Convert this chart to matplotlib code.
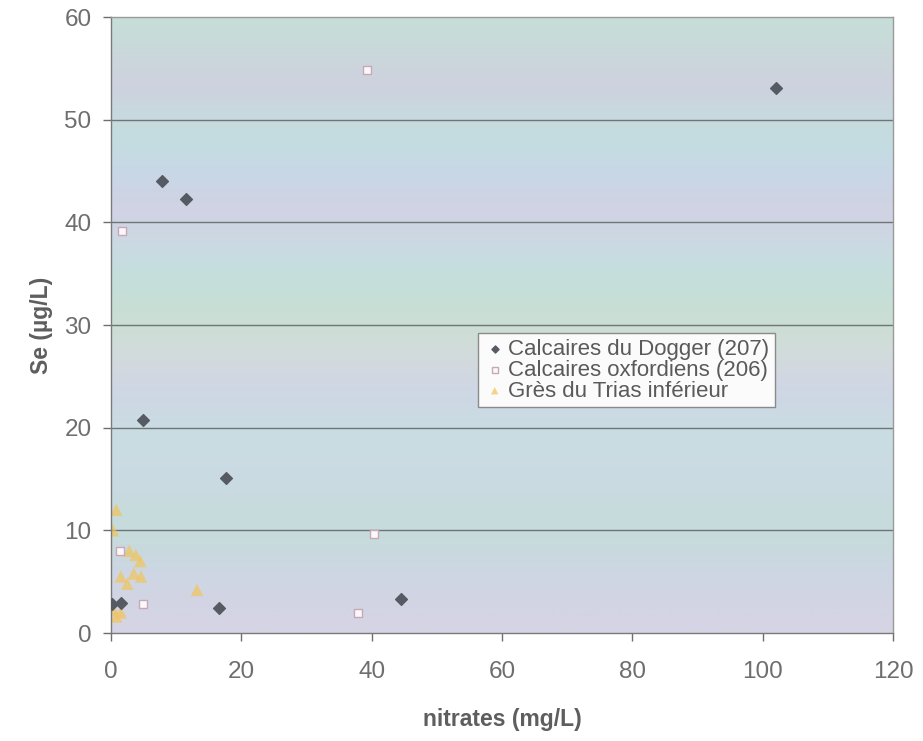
import matplotlib
matplotlib.use('Agg')
import matplotlib.pyplot as plt
import numpy as np
from matplotlib.colors import to_rgb

plt.rcParams['font.family'] = ['Liberation Sans', 'DejaVu Sans']

# Calcaires du Dogger (207)
dogger_x = [102.1, 7.8, 11.5, 4.9, 17.6, 16.6, 44.5, 0.2, 1.6]
dogger_y = [53.1, 44.0, 42.3, 20.7, 15.1, 2.4, 3.3, 2.8, 2.9]

# Calcaires oxfordiens (206)
oxf_x = [39.3, 1.7, 1.4, 4.9, 37.9, 40.3]
oxf_y = [54.8, 39.2, 8.0, 2.8, 1.9, 9.6]

# Gres du Trias inferieur
trias_x = [0.8, 0.3, 2.8, 3.8, 4.5, 3.5, 4.6, 2.5, 1.5, 13.2, 0.3, 0.8, 1.5]
trias_y = [12.0, 10.0, 8.0, 7.6, 7.0, 5.8, 5.5, 4.8, 5.5, 4.2, 2.3, 1.6, 2.0]

x_ticks = [0, 20, 40, 60, 80, 100, 120]
y_ticks = [0, 10, 20, 30, 40, 50, 60]

# background bands of the scanned plot area (top -> bottom)
band_colours = ['#c6ded8', '#d2cde0', '#c2e0dc', '#c6d8e8', '#d5d0e2', '#c5dfe4',
                '#c4dfd2', '#d4ded8', '#d0d3e8', '#c7e0e0', '#cdd8e6', '#c3ded6',
                '#ccd6e4', '#d5d4e4']

fig = plt.figure(figsize=(9.23, 7.41), dpi=100)
ax = fig.add_axes([111/923, 1-633/741, (893-111)/923, (633-17)/741])

bg = np.array([to_rgb(c) for c in band_colours])[:, None, :]
ax.imshow(bg, extent=(0, 120, 0, 60), aspect='auto', interpolation='bicubic', zorder=0)

for y in y_ticks[1:-1]:
    ax.axhline(y, color='#6f7478', lw=1.0, zorder=1)

ax.scatter(dogger_x, dogger_y, marker='D', s=36, color='#555a63', edgecolors='#555a63',
           zorder=3, label='Calcaires du Dogger (207)')
ax.scatter(oxf_x, oxf_y, marker='s', s=40, facecolors='#fbf8fa', edgecolors='#c8a8b8',
           linewidths=1.0, zorder=3, label='Calcaires oxfordiens (206)')
ax.scatter(trias_x, trias_y, marker='^', s=80, color='#f2c45a', alpha=0.7, edgecolors='none',
           zorder=2, label='Grès du Trias inférieur')

ax.set_xlim(0, 120)
ax.set_ylim(0, 60)
ax.set_xticks(x_ticks)
ax.set_yticks(y_ticks)
ax.tick_params(axis='both', labelsize=17.5, colors='#6e6e6e', length=6, width=1, pad=8)
ax.tick_params(axis='x', pad=14)
for side in ['top', 'right']:
    ax.spines[side].set_color('#9a9a9a')
    ax.spines[side].set_linewidth(1.0)
for side in ['left', 'bottom']:
    ax.spines[side].set_color('#7a7a7a')
    ax.spines[side].set_linewidth(1.0)

ax.set_xlabel('nitrates (mg/L)', fontsize=16.5, fontweight='bold', color='#5e5e5e', labelpad=18)
ax.set_ylabel('Se (µg/L)', fontsize=16.5, fontweight='bold', color='#5e5e5e', labelpad=8)

leg = ax.legend(loc='upper left', bbox_to_anchor=(478/923, 1-333/741),
                bbox_transform=fig.transFigure, fontsize=16, frameon=True,
                fancybox=False, borderpad=0.25, labelspacing=0.0, handletextpad=0.1,
                handlelength=1.0, markerscale=0.6, borderaxespad=0)
leg.get_frame().set_edgecolor('#8a8a8a')
leg.get_frame().set_facecolor('#fbfbfb')
leg.get_frame().set_alpha(1)
for t in leg.get_texts():
    t.set_color('#5a5a5a')

fig.savefig('out.png', dpi=100)
